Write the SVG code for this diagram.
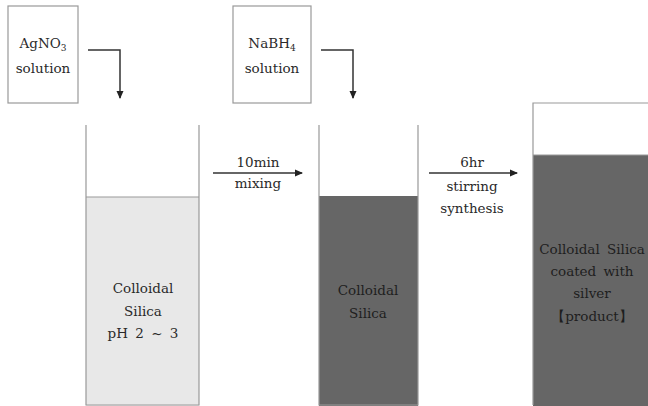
<svg xmlns="http://www.w3.org/2000/svg" width="648" height="406" viewBox="0 0 648 406">
<style>
text{font-family:"DejaVu Serif","Liberation Serif",serif;font-size:13.5px;fill:#2a2a2a;text-anchor:middle;word-spacing:3px}
.dk{fill:#1e1e1e}
.box{fill:#fff;stroke:#999;stroke-width:1.2}
.wall{fill:none;stroke:#999;stroke-width:1.2}
.conn{fill:none;stroke:#333;stroke-width:1.5}
</style>
<defs>
<marker id="ah" markerWidth="8" markerHeight="8" refX="7" refY="4" orient="auto" markerUnits="userSpaceOnUse">
<path d="M0,0.5 L8,4 L0,7.5 Z" fill="#222"/>
</marker>
</defs>
<g id="agno3">
<rect class="box" x="8" y="6" width="70" height="97"/>
<text x="43" y="48">AgNO<tspan font-size="9" dy="3">3</tspan></text>
<text x="43" y="73">solution</text>
</g>
<g id="nabh4">
<rect class="box" x="233" y="6" width="78" height="97"/>
<text x="272" y="48">NaBH<tspan font-size="9" dy="3">4</tspan></text>
<text x="272" y="73">solution</text>
</g>
<g id="beaker1">
<rect x="86" y="197" width="113" height="209" fill="#e8e8e8"/>
<line x1="86" y1="197" x2="199" y2="197" stroke="#999" stroke-width="1"/>
<path class="wall" d="M86,125 V405 H199 V125"/>
<text x="143" y="293">Colloidal</text>
<text x="143" y="316">Silica</text>
<text x="143" y="338">pH 2 ~ 3</text>
</g>
<g id="beaker2">
<rect x="319" y="196" width="99" height="210" fill="#666"/>
<path class="wall" d="M319,125 V405 H418 V125"/>
<text class="dk" x="368" y="295">Colloidal</text>
<text class="dk" x="368" y="318">Silica</text>
</g>
<g id="beaker3">
<rect x="533" y="155" width="120" height="251" fill="#666"/>
<path class="wall" d="M533,405 V103 H653"/>
<line x1="533" y1="155" x2="653" y2="155" stroke="#999" stroke-width="1"/>
<text class="dk" x="592" y="254">Colloidal Silica</text>
<text class="dk" x="592" y="276">coated with</text>
<text class="dk" x="592" y="298">silver</text>
<text class="dk" x="592" y="321">【product】</text>
</g>
<g id="connectors">
<path class="conn" d="M88,50 H120 V98" marker-end="url(#ah)"/>
<path class="conn" d="M321,50 H353 V98" marker-end="url(#ah)"/>
<line class="conn" x1="213" y1="173" x2="302" y2="173" marker-end="url(#ah)"/>
<line class="conn" x1="429" y1="173" x2="517" y2="173" marker-end="url(#ah)"/>
<text x="258" y="167">10min</text>
<text x="258" y="188">mixing</text>
<text x="472" y="167">6hr</text>
<text x="472" y="191">stirring</text>
<text x="472" y="213">synthesis</text>
</g>
</svg>
